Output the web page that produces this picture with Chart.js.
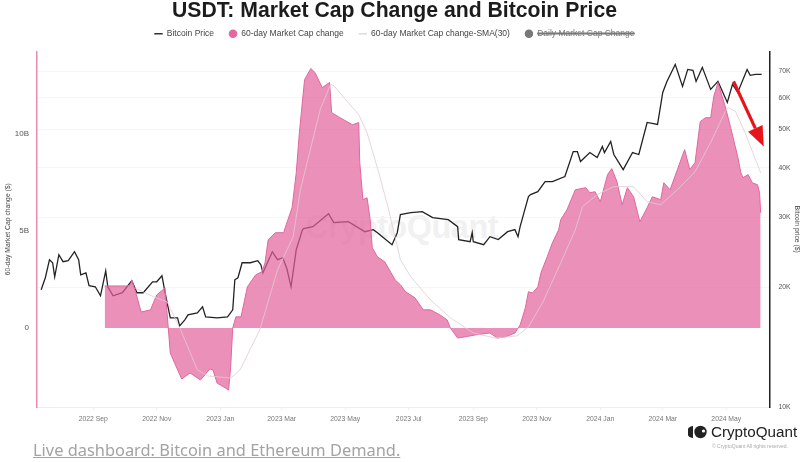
<!DOCTYPE html>
<html>
<head>
<meta charset="utf-8">
<title>USDT: Market Cap Change and Bitcoin Price</title>
<script src="https://cdn.jsdelivr.net/npm/chart.js@4/dist/chart.umd.js"></script>
<style>
  html, body { margin: 0; padding: 0; background: #fff; }
  #wrap { position: relative; width: 805px; height: 462px; overflow: hidden; }
  #chart { position: absolute; left: 0; top: 0; }
  .mark { position: absolute; left: 305px; top: 209px; font: 600 32.5px "Liberation Sans", sans-serif; color: #f1f1f1; letter-spacing: -0.5px; }
  .link { position: absolute; left: 33px; top: 438px; font: 16.4px "Noto Sans", sans-serif; color: #a3a3a3; text-decoration: underline; white-space: nowrap; }
  .logo { position: absolute; left: 688px; top: 425px; width: 19px; height: 14px; }
  .brand { position: absolute; left: 711px; top: 423px; font: 15.2px "Liberation Sans", sans-serif; color: #222; white-space: nowrap; }
  .rights { position: absolute; left: 712px; top: 443px; font: 5px "Liberation Sans", sans-serif; color: #aaa; white-space: nowrap; }
</style>
</head>
<body>
<div id="wrap">
  <div class="mark">CryptoQuant</div>
  <canvas id="chart" width="805" height="462"></canvas>
  <div class="link">Live dashboard: Bitcoin and Ethereum Demand.</div>
  <svg class="logo" viewBox="0 0 19 14">
    <path d="M5 1 A6 6 0 0 0 5 13 Z" fill="#222"/>
    <circle cx="12.5" cy="7" r="6.2" fill="#222"/>
    <circle cx="15.5" cy="6" r="1.6" fill="#fff"/>
  </svg>
  <div class="brand">CryptoQuant</div>
  <div class="rights">© CryptoQuant All rights reserved.</div>
</div>
<script>
// x values are days counted from 2022-09-01
const tickDays = [0, 61, 122, 181, 242, 303, 365, 426, 487, 547, 608];
const tickLabels = ["2022 Sep", "2022 Nov", "2023 Jan", "2023 Mar", "2023 May", "2023 Jul", "2023 Sep", "2023 Nov", "2024 Jan", "2024 Mar", "2024 May"];
const capTicks = [0, 5, 10];
const priceTicks = [10000, 20000, 30000, 40000, 50000, 60000, 70000];

const btcDays = [-50, -46, -42, -39, -37, -33, -29, -24, -18, -14, -12, -7, -4, 2, 7, 12, 14, 19, 28, 37, 42, 48, 57, 61, 66, 69, 74, 81, 83, 88, 91, 100, 105, 108, 119, 129, 134, 136, 139, 143, 151, 158, 161, 163, 172, 177, 182, 186, 190, 195, 201, 202, 211, 226, 231, 245, 261, 269, 273, 287, 292, 295, 305, 316, 326, 341, 350, 351, 362, 364, 365, 375, 381, 389, 398, 405, 408, 410, 418, 420, 427, 434, 441, 453, 461, 465, 468, 477, 484, 489, 491, 497, 500, 509, 518, 524, 532, 542, 547, 551, 559, 566, 571, 576, 579, 585, 593, 600, 609, 614, 619, 628, 631, 636, 642];
const btcPrice = [19720, 21150, 23480, 23070, 21270, 24170, 23210, 23340, 24590, 23480, 21510, 21760, 20190, 20070, 19050, 22010, 20070, 19050, 19390, 20780, 19390, 19390, 20660, 20660, 21400, 19390, 16760, 16760, 16000, 16570, 17060, 17260, 17870, 16860, 16760, 16860, 17560, 20900, 21150, 23070, 23070, 23340, 22810, 21760, 24590, 23480, 23750, 22280, 20070, 24880, 27950, 28110, 28430, 30660, 29100, 29280, 27620, 27950, 27460, 25620, 27460, 30490, 30850, 31030, 29970, 29620, 28430, 26380, 26060, 27460, 26060, 25620, 26830, 26380, 27620, 27950, 26830, 28430, 33850, 34240, 34840, 36920, 36920, 38020, 43950, 43950, 41480, 43690, 42450, 45250, 43690, 46590, 43200, 39580, 43690, 43200, 52010, 51410, 61900, 65980, 72840, 64110, 70730, 70320, 65980, 71570, 63000, 65980, 58420, 64860, 61900, 70730, 68340, 68740, 68740];

const capDays = [11, 18, 31, 36, 37, 41, 46, 55, 61, 69, 72, 74, 79, 85, 93, 103, 112, 115, 119, 127, 130, 132, 134, 137, 142, 145, 148, 156, 162, 165, 168, 175, 183, 184, 191, 195, 198, 203, 209, 213, 220, 227, 229, 237, 249, 255, 256, 259, 263, 266, 268, 273, 280, 290, 295, 300, 309, 317, 324, 333, 340, 343, 350, 357, 367, 381, 388, 396, 405, 410, 415, 418, 422, 427, 430, 436, 441, 447, 449, 455, 463, 473, 477, 482, 487, 494, 498, 503, 508, 513, 519, 525, 532, 537, 545, 548, 554, 561, 568, 573, 578, 583, 588, 593, 596, 600, 607, 612, 619, 622, 624, 629, 633, 638, 640, 641];
const capChange = [2.16, 2.16, 2.16, 2.2, 2.47, 1.8, 0.82, 0.93, 1.7, 2.06, 0.05, -1.29, -1.91, -2.63, -2.32, -2.68, -2.11, -2.16, -2.84, -3.09, -3.2, -2.01, 0, 0.57, 0.57, 1.34, 2.11, 2.73, 2.89, 3.35, 4.54, 4.9, 4.9, 5.1, 6.19, 7.99, 10.05, 12.78, 13.35, 13.14, 12.37, 12.63, 11.08, 10.82, 10.46, 10.57, 8.5, 6.6, 6.7, 5.57, 4.12, 3.66, 3.4, 2.47, 2.22, 1.86, 1.55, 0.93, 0.93, 0.67, 0.41, 0, -0.52, -0.46, -0.36, -0.26, -0.52, -0.46, -0.26, 0.15, 1.03, 1.86, 1.8, 2.11, 2.84, 3.66, 4.38, 5.05, 5.57, 6.08, 7.11, 7.22, 6.96, 7.01, 6.49, 7.89, 8.2, 7.53, 6.34, 7.22, 6.75, 5.46, 6.19, 6.75, 6.6, 7.47, 7.11, 8.14, 9.18, 8.14, 8.51, 10.62, 10.82, 10.82, 11.91, 12.63, 11.39, 10.36, 8.81, 7.99, 7.73, 7.89, 7.47, 7.37, 6.96, 5.93];

const smaDays = [40, 58, 71, 84, 100, 110, 132, 141, 160, 177, 192, 199, 218, 228, 231, 244, 255, 263, 274, 283, 295, 305, 324, 343, 365, 386, 407, 418, 432, 449, 463, 470, 484, 500, 519, 532, 545, 561, 578, 593, 607, 610, 617, 626, 641];
const smaChange = [2.06, 1.6, 1.34, -0.1, -2.16, -2.47, -2.58, -2.16, -0.1, 2.99, 4.69, 7.11, 11.24, 12.53, 12.47, 11.65, 10.98, 10.05, 8.04, 6.24, 3.51, 2.63, 1.44, 0.52, -0.26, -0.52, -0.41, 0.05, 1.34, 3.35, 5.05, 6.24, 6.86, 7.27, 7.27, 6.49, 6.34, 7.11, 8.04, 9.54, 11.13, 11.34, 11.13, 10.05, 7.99];

// red arrow drawn on the picture, in chart units (day, BTC price)
const arrowStart = [615, 65980];
const arrowTip = [644, 45250];

const toPoints = (xs, ys) => xs.map((x, i) => ({ x: x, y: ys[i] }));

const arrowPlugin = {
  id: "redArrow",
  afterDatasetsDraw(chart) {
    const { x: xScale, yPrice } = chart.scales;
    const ctx = chart.ctx;
    const x0 = xScale.getPixelForValue(arrowStart[0]);
    const y0 = yPrice.getPixelForValue(arrowStart[1]);
    const x1 = xScale.getPixelForValue(arrowTip[0]);
    const y1 = yPrice.getPixelForValue(arrowTip[1]);
    const angle = Math.atan2(y1 - y0, x1 - x0);
    const len = 20;
    const half = 8;
    const bx = x1 - Math.cos(angle) * len;
    const by = y1 - Math.sin(angle) * len;
    ctx.save();
    ctx.strokeStyle = "#e8141c";
    ctx.fillStyle = "#e8141c";
    ctx.lineWidth = 3.2;
    ctx.beginPath();
    ctx.moveTo(x0, y0);
    ctx.lineTo(bx, by);
    ctx.stroke();
    ctx.beginPath();
    ctx.moveTo(x1, y1);
    ctx.lineTo(bx - Math.sin(angle) * half, by + Math.cos(angle) * half);
    ctx.lineTo(bx + Math.sin(angle) * half, by - Math.cos(angle) * half);
    ctx.closePath();
    ctx.fill();
    ctx.restore();
  },
};

// extra room under the legend row, the option only gives one padding for both
const legendGapPlugin = {
  id: "legendGap",
  beforeInit(chart) {
    const fit = chart.legend.fit;
    chart.legend.fit = function () {
      fit.call(this);
      this.height += 3.5;
    };
  },
  // right padding centres the title, but the price labels must not clip at it
  beforeDraw(chart) {
    chart.scales.yPrice.right = chart.width;
  },
};

const legendItem = (ds, i, style, color, hidden) => ({
  text: ds.label,
  fillStyle: color,
  strokeStyle: color,
  fontColor: hidden ? "#777" : "#444",
  lineWidth: style === "line" ? 1.5 : 0,
  pointStyle: style,
  hidden: hidden,
  datasetIndex: i,
});

new Chart(document.querySelector("#chart"), {
  type: "line",
  plugins: [arrowPlugin, legendGapPlugin],
  data: {
    datasets: [
      {
        label: "Bitcoin Price",
        data: toPoints(btcDays, btcPrice),
        yAxisID: "yPrice",
        borderColor: "#222",
        borderWidth: 1.3,
        pointRadius: 0,
        tension: 0,
        order: 3,
      },
      {
        label: "60-day Market Cap change",
        data: toPoints(capDays, capChange),
        yAxisID: "yCap",
        borderColor: "#e0679d",
        backgroundColor: "rgba(226, 98, 155, 0.7)",
        borderWidth: 1,
        pointRadius: 0,
        tension: 0,
        fill: "origin",
        order: 2,
      },
      {
        label: "60-day Market Cap change-SMA(30)",
        data: toPoints(smaDays, smaChange),
        yAxisID: "yCap",
        borderColor: "#dfccd3",
        borderWidth: 0.8,
        pointRadius: 0,
        tension: 0,
        order: 1,
      },
      {
        label: "Daily Market Cap Change",
        data: [],
        yAxisID: "yCap",
        hidden: true,
        borderColor: "#777",
        backgroundColor: "#777",
      },
    ],
  },
  options: {
    responsive: false,
    animation: false,
    layout: { padding: { top: -2, right: 16, bottom: 35, left: 0 } },
    plugins: {
      title: {
        display: true,
        text: "USDT: Market Cap Change and Bitcoin Price",
        color: "#1c1c1c",
        font: { family: "Liberation Sans", size: 21.2, weight: "bold" },
        padding: { top: 0, bottom: -9 },
      },
      legend: {
        display: true,
        labels: {
          usePointStyle: true,
          boxWidth: 8,
          boxHeight: 6,
          padding: 15,
          font: { family: "Liberation Sans", size: 8.5 },
          generateLabels: (chart) => {
            const sets = chart.data.datasets;
            return [
              legendItem(sets[0], 0, "line", "#333", false),
              legendItem(sets[1], 1, "circle", "#e5689d", false),
              legendItem(sets[2], 2, "line", "#dcdcdc", false),
              legendItem(sets[3], 3, "circle", "#777", true),
            ];
          },
        },
      },
      tooltip: { enabled: false },
    },
    scales: {
      x: {
        type: "linear",
        min: -54,
        max: 650,
        afterBuildTicks: (scale) => {
          scale.ticks = tickDays.map((d) => ({ value: d }));
        },
        afterFit: (scale) => {
          scale.height = 20;
        },
        ticks: {
          autoSkip: false,
          maxRotation: 0,
          color: "#777",
          padding: 5,
          font: { family: "Liberation Sans", size: 6.8 },
          callback: (value) => tickLabels[tickDays.indexOf(value)],
        },
        grid: { display: true, drawOnChartArea: false, tickLength: 3, color: "#eee" },
        border: { color: "#eee", width: 1 },
      },
      yCap: {
        type: "linear",
        position: "left",
        min: -4.07,
        max: 14.23,
        afterBuildTicks: (scale) => {
          scale.ticks = capTicks.map((v) => ({ value: v }));
        },
        afterFit: (scale) => {
          scale.width = 37;
        },
        title: {
          display: true,
          text: "60-day Market Cap change ($)",
          color: "#444",
          font: { family: "Liberation Sans", size: 6.8 },
          padding: { top: 4, bottom: 0 },
        },
        ticks: {
          color: "#555",
          padding: 0,
          font: { family: "Liberation Sans", size: 8 },
          callback: (value) => (value === 0 ? "0" : value + "B"),
        },
        grid: { display: false },
        border: { color: "#e98bb2", width: 1.5 },
      },
      yPrice: {
        type: "logarithmic",
        position: "right",
        min: 10000,
        max: 78500,
        afterBuildTicks: (scale) => {
          scale.ticks = priceTicks.map((v) => ({ value: v }));
        },
        afterFit: (scale) => {
          scale.width = 19;
        },
        title: {
          display: true,
          text: "Bitcoin price ($)",
          color: "#444",
          font: { family: "Liberation Sans", size: 6.8 },
          padding: { top: 4, bottom: 0 },
        },
        ticks: {
          autoSkip: false,
          color: "#555",
          padding: 8.5,
          font: { family: "Liberation Sans", size: 6.8 },
          callback: (value) => value / 1000 + "K",
        },
        grid: { color: "#f5f5f5", drawTicks: false, lineWidth: 1 },
        border: { color: "#222", width: 1.5 },
      },
    },
  },
});
</script>
</body>
</html>
